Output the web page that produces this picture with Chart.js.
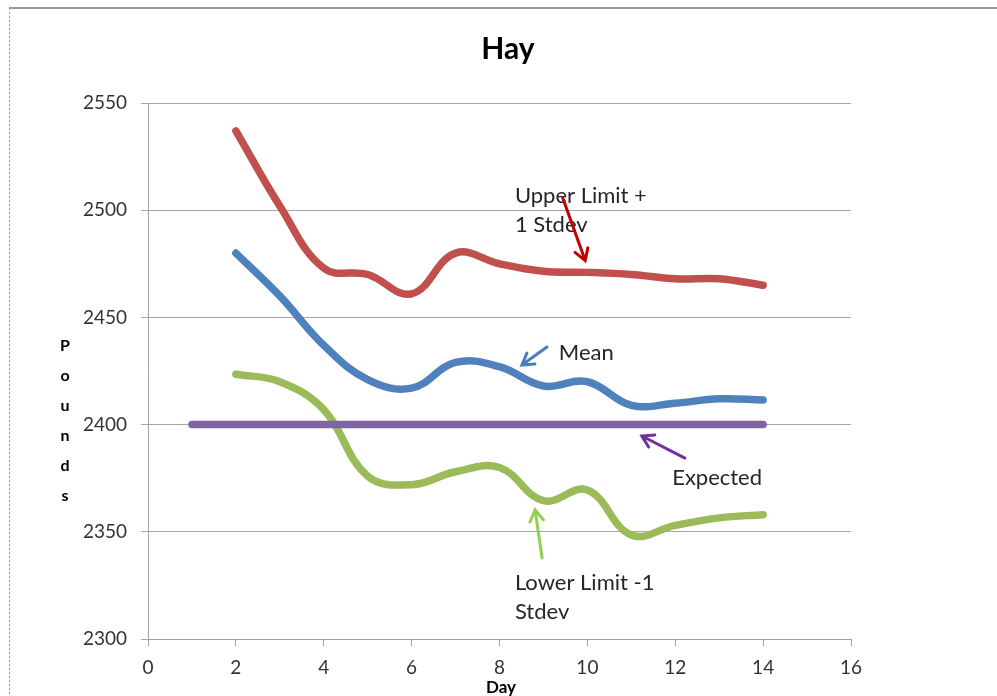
<!DOCTYPE html>
<html>
<head>
<meta charset="utf-8">
<script src="https://cdn.jsdelivr.net/npm/chart.js@4/dist/chart.umd.min.js"></script>
<style>
  html, body { margin: 0; padding: 0; background: #fff; }
  #wrap { position: absolute; left: 0; top: 0; width: 997px; height: 696px; }
</style>
</head>
<body>
<div id="wrap"><canvas id="grafico"></canvas></div>
<script>
// datos
const dias = [2, 3, 4, 5, 6, 7, 8, 9, 10, 11, 12, 13, 14];
const limiteSuperior = [2537, 2502, 2473, 2470, 2461, 2480, 2475, 2471.5, 2471, 2470, 2468, 2468, 2465];
const media = [2480, 2460, 2437, 2421, 2417, 2429, 2427, 2418, 2420, 2409, 2410, 2412, 2411.5];
const limiteInferior = [2423.5, 2420, 2407, 2376, 2372, 2378, 2380, 2364.5, 2369.5, 2348.5, 2353, 2356.5, 2358];
const diasEsperado = [1, 14];
const esperado = [2400, 2400];
const ticksY = [2300, 2350, 2400, 2450, 2500, 2550];
const ticksX = [0, 2, 4, 6, 8, 10, 12, 14, 16];

// notas con flecha (en unidades de datos)
const notas = [
  { lineas: ["Upper Limit +", "1 Stdev"], x: 8.35, y: 2506.6, color: "#c00000",
    desde: [9.44, 2505.7], hasta: [9.95, 2476.5] },
  { lineas: ["Mean"], x: 9.35, y: 2433.4, color: "#4a7ebb",
    desde: [9.08, 2436.2], hasta: [8.51, 2427.8] },
  { lineas: ["Expected"], x: 11.93, y: 2375, color: "#7030a0",
    desde: [12.22, 2384.4], hasta: [11.24, 2394.7] },
  { lineas: ["Lower Limit -1", "Stdev"], x: 8.35, y: 2326, color: "#92d050",
    desde: [8.97, 2337.8], hasta: [8.81, 2360.2] }
];

function puntos(xs, ys) {
  return xs.map((x, i) => ({ x: x, y: ys[i] }));
}

function serie(nombre, xs, ys, color) {
  return {
    label: nombre,
    data: puntos(xs, ys),
    borderColor: color,
    backgroundColor: color,
    borderWidth: 7.5,
    borderCapStyle: "round",
    borderJoinStyle: "round",
    pointRadius: 0,
    tension: 0.4,
    fill: false
  };
}

const extras = {
  id: "extras",
  beforeDraw(chart) {
    const c = chart.ctx;
    c.save();
    c.strokeStyle = "#9a9a9a";
    c.lineWidth = 2;
    c.beginPath();
    c.moveTo(9, 8);
    c.lineTo(997, 8);
    c.stroke();
    c.lineWidth = 1;
    c.setLineDash([2, 2]);
    c.beginPath();
    c.moveTo(9.5, 8);
    c.lineTo(9.5, 696);
    c.stroke();
    c.restore();
  },
  afterDraw(chart) {
    const c = chart.ctx;
    const sx = chart.scales.x, sy = chart.scales.y;
    c.save();
    // titulo
    c.fillStyle = "#000";
    c.font = "bold 30px Lato";
    c.textAlign = "center";
    c.textBaseline = "middle";
    c.fillText("Hay", 508, 49);
    // eje y: letras apiladas
    c.font = "bold 16px Lato";
    "Pounds".split("").forEach((l, i) => c.fillText(l, 65, 346 + i * 30));
    // eje x
    c.font = "bold 17px Lato";
    c.fillText("Day", 501, 688);

    notas.forEach((n) => {
      c.fillStyle = "#262626";
      c.font = "22px Lato";
      c.textAlign = "left";
      c.textBaseline = "middle";
      const x0 = sx.getPixelForValue(n.x);
      const y0 = sy.getPixelForValue(n.y);
      n.lineas.forEach((t, i) => c.fillText(t, x0, y0 + i * 29));

      const ax = sx.getPixelForValue(n.desde[0]), ay = sy.getPixelForValue(n.desde[1]);
      const bx = sx.getPixelForValue(n.hasta[0]), by = sy.getPixelForValue(n.hasta[1]);
      const ang = Math.atan2(by - ay, bx - ax);
      c.strokeStyle = n.color;
      c.lineWidth = 3;
      c.lineCap = "round";
      c.beginPath();
      c.moveTo(ax, ay);
      c.lineTo(bx, by);
      c.moveTo(bx - 13 * Math.cos(ang - 0.55), by - 13 * Math.sin(ang - 0.55));
      c.lineTo(bx, by);
      c.lineTo(bx - 13 * Math.cos(ang + 0.55), by - 13 * Math.sin(ang + 0.55));
      c.stroke();
    });
    c.restore();
  }
};

new Chart(document.getElementById("grafico"), {
  type: "line",
  data: {
    datasets: [
      serie("Expected", diasEsperado, esperado, "#8064a2"),
      serie("Upper Limit + 1 Stdev", dias, limiteSuperior, "#c0504d"),
      serie("Mean", dias, media, "#4f81bd"),
      serie("Lower Limit -1 Stdev", dias, limiteInferior, "#9bbb59")
    ]
  },
  options: {
    responsive: true,
    maintainAspectRatio: false,
    animation: false,
    events: [],
    layout: { padding: { left: 20, right: 146, top: 103, bottom: 0 } },
    plugins: { legend: { display: false }, title: { display: false }, tooltip: { enabled: false } },
    scales: {
      x: {
        type: "linear",
        min: 0,
        max: 16,
        afterBuildTicks: (s) => { s.ticks = ticksX.map((v) => ({ value: v })); },
        afterFit: (s) => { s.height = 57; },
        grid: { drawOnChartArea: false, drawTicks: true, tickLength: 7, color: "#a0a0a0" },
        border: { color: "#a0a0a0" },
        ticks: { padding: 10, color: "#333", font: { family: "Lato", size: 19 } }
      },
      y: {
        min: 2300,
        max: 2550,
        afterBuildTicks: (s) => { s.ticks = ticksY.map((v) => ({ value: v })); },
        afterFit: (s) => { s.width = 128; },
        grid: { drawTicks: true, tickLength: 7, color: "#a6a6a6" },
        border: { color: "#a0a0a0" },
        ticks: { padding: 14, color: "#333", font: { family: "Lato", size: 19 },
                 callback: (v) => String(v) }
      }
    }
  },
  plugins: [extras]
});
</script>
</body>
</html>
